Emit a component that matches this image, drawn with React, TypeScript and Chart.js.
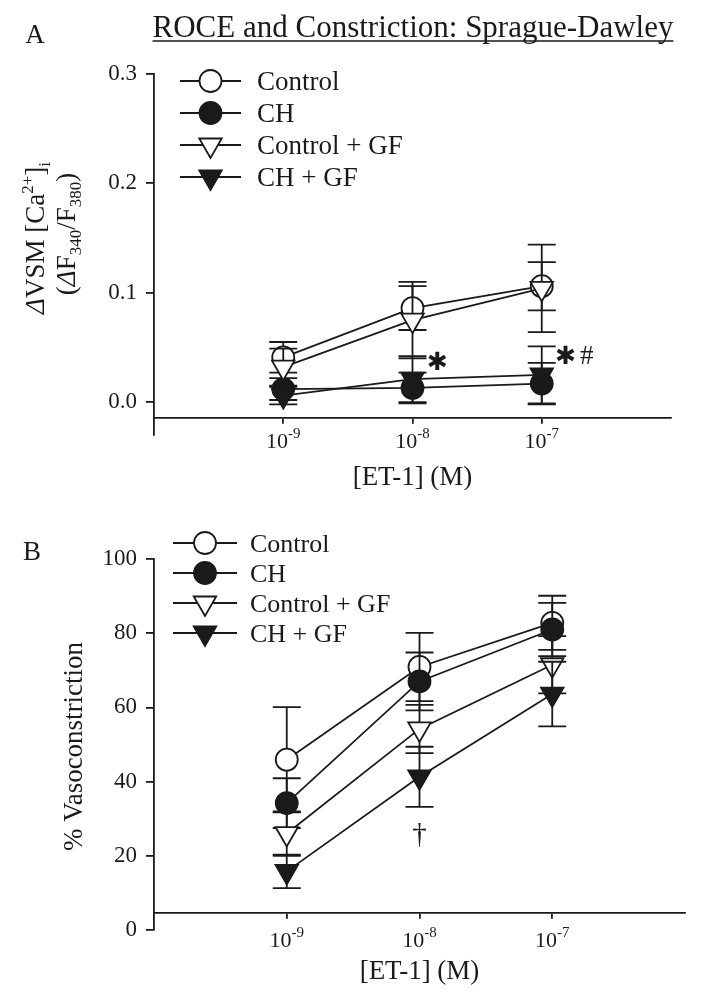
import React, { useEffect, useRef } from 'react';
import { Chart, registerables } from 'chart.js';

Chart.register(...registerables);

// ---------- data ----------
const concentrations = [1e-9, 1e-8, 1e-7];
const seriesNames = ['Control', 'CH', 'Control + GF', 'CH + GF'];
const xTicks = [1e-9, 1e-8, 1e-7];
const xTickExponents = ['-9', '-8', '-7'];

// Panel A: ΔVSM [Ca2+]i
const caControl = [0.041, 0.086, 0.106];
const caCH = [0.012, 0.013, 0.017];
const caControlGF = [0.032, 0.075, 0.104];
const caCHGF = [0.006, 0.021, 0.025];
const caControlSEM = [0.014, 0.02, 0.022];
const caCHSEM = [0.01, 0.014, 0.019];
const caControlGFSEM = [0.017, 0.035, 0.04];
const caCHGFSEM = [0.008, 0.021, 0.026];
const yTicksA = [0, 0.1, 0.2, 0.3];

// Panel B: % Vasoconstriction
const vcControl = [45.9, 70.9, 82.8];
const vcCH = [34.2, 67.0, 81.0];
const vcControlGF = [26.0, 54.2, 71.5];
const vcCHGF = [15.8, 41.3, 63.6];
const vcControlSEM = [14.2, 9.2, 7.3];
const vcCHSEM = [6.7, 7.8, 7.2];
const vcControlGFSEM = [6.0, 6.5, 7.7];
const vcCHGFSEM = [4.5, 8.1, 8.7];
const yTicksB = [0, 20, 40, 60, 80, 100];

// ---------- styles ----------
const INK = '#1a1a1a';
const SERIF = '"Liberation Serif", "Times New Roman", serif';
const LW = 1.8;
const seriesStyle = [
  { shape: 'circle', rot: 0, r: 11, fill: '#ffffff' },
  { shape: 'circle', rot: 0, r: 11, fill: INK },
  { shape: 'triangle', rot: 180, r: 13, fill: '#ffffff' },
  { shape: 'triangle', rot: 180, r: 13, fill: INK },
];

type Part = { t: string; s?: number; dy?: number; it?: boolean };

function fontOf(p: Part, base: number) {
  return `${p.it ? 'italic ' : ''}${p.s || base}px ${SERIF}`;
}

function drawParts(ctx: CanvasRenderingContext2D, parts: Part[], x: number, y: number, base: number, align: 'center' | 'left') {
  let total = 0;
  const widths = parts.map((p) => {
    ctx.font = fontOf(p, base);
    const w = ctx.measureText(p.t).width;
    total += w;
    return w;
  });
  let cx = align === 'center' ? x - total / 2 : x;
  ctx.textAlign = 'left';
  ctx.textBaseline = 'alphabetic';
  parts.forEach((p, i) => {
    ctx.font = fontOf(p, base);
    ctx.fillText(p.t, cx, y + (p.dy || 0));
    cx += widths[i];
  });
  return { left: align === 'center' ? x - total / 2 : x, width: total };
}

function drawMarker(ctx: CanvasRenderingContext2D, k: number, x: number, y: number) {
  const st = seriesStyle[k];
  ctx.beginPath();
  if (st.shape === 'circle') {
    ctx.arc(x, y, st.r, 0, Math.PI * 2);
  } else {
    let rad = (st.rot * Math.PI) / 180;
    ctx.moveTo(x + Math.sin(rad) * st.r, y - Math.cos(rad) * st.r);
    rad += (2 * Math.PI) / 3;
    ctx.lineTo(x + Math.sin(rad) * st.r, y - Math.cos(rad) * st.r);
    rad += (2 * Math.PI) / 3;
    ctx.lineTo(x + Math.sin(rad) * st.r, y - Math.cos(rad) * st.r);
    ctx.closePath();
  }
  ctx.fillStyle = st.fill;
  ctx.fill();
  ctx.lineWidth = LW;
  ctx.strokeStyle = INK;
  ctx.stroke();
}

type Decor = {
  values: number[][];
  sems: number[][];
  cross: number;
  title?: { text: string; x: number; y: number; size: number; underline: number };
  panel: { text: string; x: number; y: number; size: number };
  yTitle: { parts: Part[]; x: number; y: number; size: number }[];
  xTitle: { text: string; y: number; size: number };
  tickLabelOffset: number;
  legend: { x1: number; x2: number; xm: number; xt: number; rows: number[]; size: number };
  notes: { text: string; font: string; at: number; y: number; dx: number }[];
};

function decorPlugin(d: Decor) {
  return {
    id: 'decor',
    beforeDatasetDraw(chart: any, args: any) {
      const k = args.index;
      const ys = chart.scales.y;
      const ctx = chart.ctx as CanvasRenderingContext2D;
      const cap = 14;
      ctx.save();
      ctx.strokeStyle = INK;
      ctx.lineWidth = LW;
      args.meta.data.forEach((pt: any, i: number) => {
        const v = d.values[k][i];
        const e = d.sems[k][i];
        const top = ys.getPixelForValue(v + e);
        const bot = ys.getPixelForValue(v - e);
        ctx.beginPath();
        ctx.moveTo(pt.x, top);
        ctx.lineTo(pt.x, bot);
        ctx.moveTo(pt.x - cap, top);
        ctx.lineTo(pt.x + cap, top);
        ctx.moveTo(pt.x - cap, bot);
        ctx.lineTo(pt.x + cap, bot);
        ctx.stroke();
      });
      ctx.restore();
    },
    afterDraw(chart: any) {
      const ctx = chart.ctx as CanvasRenderingContext2D;
      const xs = chart.scales.x;
      const ys = chart.scales.y;
      const area = chart.chartArea;
      ctx.save();
      ctx.fillStyle = INK;
      ctx.strokeStyle = INK;

      if (d.title) {
        const r = drawParts(ctx, [{ t: d.title.text }], d.title.x, d.title.y, d.title.size, 'center');
        ctx.lineWidth = 1.5;
        ctx.beginPath();
        ctx.moveTo(r.left, d.title.underline);
        ctx.lineTo(r.left + r.width, d.title.underline);
        ctx.stroke();
      }
      drawParts(ctx, [{ t: d.panel.text }], d.panel.x, d.panel.y, d.panel.size, 'center');

      d.yTitle.forEach((line) => {
        ctx.save();
        ctx.translate(line.x, line.y);
        ctx.rotate(-Math.PI / 2);
        drawParts(ctx, line.parts, 0, line.size * 0.33, line.size, 'center');
        ctx.restore();
      });

      const axisY = ys.getPixelForValue(d.cross);
      const cx = (area.left + area.right) / 2;
      drawParts(ctx, [{ t: d.xTitle.text }], cx, d.xTitle.y, d.xTitle.size, 'center');

      xTicks.forEach((v, i) => {
        const px = xs.getPixelForValue(v);
        drawParts(
          ctx,
          [{ t: '10' }, { t: xTickExponents[i], s: 15, dy: -10 }],
          px,
          axisY + d.tickLabelOffset,
          22,
          'center'
        );
      });

      const L = d.legend;
      seriesNames.forEach((name, k) => {
        const y = L.rows[k];
        ctx.strokeStyle = INK;
        ctx.lineWidth = LW;
        ctx.beginPath();
        ctx.moveTo(L.x1, y);
        ctx.lineTo(L.x2, y);
        ctx.stroke();
        drawMarker(ctx, k, L.xm, y);
        ctx.fillStyle = INK;
        drawParts(ctx, [{ t: name }], L.xt, y + L.size * 0.33, L.size, 'left');
      });

      d.notes.forEach((n) => {
        ctx.font = n.font;
        ctx.textAlign = 'center';
        ctx.textBaseline = 'middle';
        ctx.fillStyle = INK;
        ctx.fillText(n.text, xs.getPixelForValue(n.at) + n.dx, ys.getPixelForValue(n.y));
      });
      ctx.restore();
    },
  };
}

function buildConfig(o: {
  values: number[][];
  sems: number[][];
  yMin: number;
  yMax: number;
  yTicks: number[];
  yFmt: (v: number) => string;
  cross: number;
  padding: any;
  decor: Omit<Decor, 'values' | 'sems' | 'cross'>;
}) {
  return {
    type: 'line' as const,
    data: {
      datasets: seriesNames.map((name, k) => ({
        label: name,
        data: concentrations.map((c, i) => ({ x: c, y: o.values[k][i] })),
        borderColor: INK,
        borderWidth: LW,
        pointStyle: seriesStyle[k].shape,
        pointRotation: seriesStyle[k].rot,
        pointRadius: seriesStyle[k].r,
        pointBackgroundColor: seriesStyle[k].fill,
        pointBorderColor: INK,
        pointBorderWidth: LW,
        tension: 0,
        fill: false,
        order: 3 - k,
      })),
    },
    options: {
      responsive: false,
      animation: false,
      layout: { padding: o.padding },
      plugins: { legend: { display: false }, tooltip: { enabled: false } },
      scales: {
        x: {
          type: 'logarithmic',
          min: 1e-10,
          max: 1e-6,
          position: { y: o.cross },
          afterBuildTicks: (s: any) => {
            s.ticks = xTicks.map((v) => ({ value: v }));
          },
          ticks: { display: false },
          grid: { drawOnChartArea: false, drawTicks: true, tickLength: 5, color: INK, lineWidth: LW },
          border: { display: true, color: INK, width: LW },
        },
        y: {
          type: 'linear',
          min: o.yMin,
          max: o.yMax,
          afterFit: (s: any) => {
            s.width = 154;
          },
          afterBuildTicks: (s: any) => {
            s.ticks = o.yTicks.map((v) => ({ value: v }));
          },
          ticks: {
            callback: (v: any) => o.yFmt(Number(v)),
            font: { family: SERIF, size: 23 },
            color: INK,
            padding: 9,
          },
          grid: { drawOnChartArea: false, drawTicks: true, tickLength: 8, color: INK, lineWidth: LW },
          border: { display: true, color: INK, width: LW },
        },
      },
    },
    plugins: [decorPlugin({ ...o.decor, values: o.values, sems: o.sems, cross: o.cross })],
  };
}

const OFF_B = 490;

export default function App() {
  const refA = useRef<HTMLCanvasElement>(null);
  const refB = useRef<HTMLCanvasElement>(null);

  useEffect(() => {
    const valuesA = [caControl, caCH, caControlGF, caCHGF];
    const semsA = [caControlSEM, caCHSEM, caControlGFSEM, caCHGFSEM];
    const valuesB = [vcControl, vcCH, vcControlGF, vcCHGF];
    const semsB = [vcControlSEM, vcCHSEM, vcControlGFSEM, vcCHGFSEM];

    const chartA = new Chart(
      refA.current as HTMLCanvasElement,
      buildConfig({
        values: valuesA,
        sems: semsA,
        yMin: -0.03,
        yMax: 0.3,
        yTicks: yTicksA,
        yFmt: (v) => v.toFixed(1),
        cross: -0.0143,
        padding: { top: 74, bottom: 55, left: 0, right: 30 },
        decor: {
          title: { text: 'ROCE and Constriction: Sprague-Dawley', x: 413, y: 37, size: 31, underline: 41 },
          panel: { text: 'A', x: 35, y: 43, size: 27 },
          yTitle: [
            {
              parts: [{ t: 'Δ', it: true }, { t: 'VSM [Ca' }, { t: '2+', s: 17, dy: -11 }, { t: ']' }, { t: 'i', s: 17, dy: 6 }],
              x: 35,
              y: 238,
              size: 27,
            },
            {
              parts: [{ t: '(' }, { t: 'Δ', it: true }, { t: 'F' }, { t: '340', s: 17, dy: 6 }, { t: '/F' }, { t: '380', s: 17, dy: 6 }, { t: ')' }],
              x: 66,
              y: 234,
              size: 27,
            },
          ],
          xTitle: { text: '[ET-1] (M)', y: 485, size: 27 },
          tickLabelOffset: 30,
          legend: { x1: 180, x2: 241, xm: 210.5, xt: 257, rows: [81, 113, 145, 177], size: 27 },
          notes: [
            { text: '✱', font: `bold 25px "DejaVu Sans"`, at: 1e-8, y: 0.0354, dx: 25 },
            { text: '✱', font: `bold 25px "DejaVu Sans"`, at: 1e-7, y: 0.041, dx: 24 },
            { text: '#', font: `27px ${SERIF}`, at: 1e-7, y: 0.041, dx: 45 },
          ],
        },
      }) as any
    );

    const chartB = new Chart(
      refB.current as HTMLCanvasElement,
      buildConfig({
        values: valuesB,
        sems: semsB,
        yMin: 0,
        yMax: 100,
        yTicks: yTicksB,
        yFmt: (v) => String(Math.round(v)),
        cross: 4.67,
        padding: { top: 559 - OFF_B, bottom: 513 - (930 - OFF_B), left: 0, right: 16 },
        decor: {
          panel: { text: 'B', x: 32, y: 560 - OFF_B, size: 27 },
          yTitle: [{ parts: [{ t: '% Vasoconstriction' }], x: 73, y: 746.5 - OFF_B, size: 27 }],
          xTitle: { text: '[ET-1] (M)', y: 979 - OFF_B, size: 27 },
          tickLabelOffset: 34,
          legend: { x1: 173, x2: 237, xm: 205, xt: 250, rows: [543, 573, 603, 633].map((v) => v - OFF_B), size: 26 },
          notes: [{ text: '†', font: `29px ${SERIF}`, at: 1e-8, y: 25.6, dx: 0 }],
        },
      }) as any
    );

    return () => {
      chartA.destroy();
      chartB.destroy();
    };
  }, []);

  return (
    <div style={{ position: 'absolute', left: 0, top: 0, width: 701, height: 1003, background: '#ffffff' }}>
      <canvas ref={refA} width={701} height={490} style={{ position: 'absolute', left: 0, top: 0, display: 'block' }} />
      <canvas ref={refB} width={701} height={513} style={{ position: 'absolute', left: 0, top: OFF_B, display: 'block' }} />
    </div>
  );
}
